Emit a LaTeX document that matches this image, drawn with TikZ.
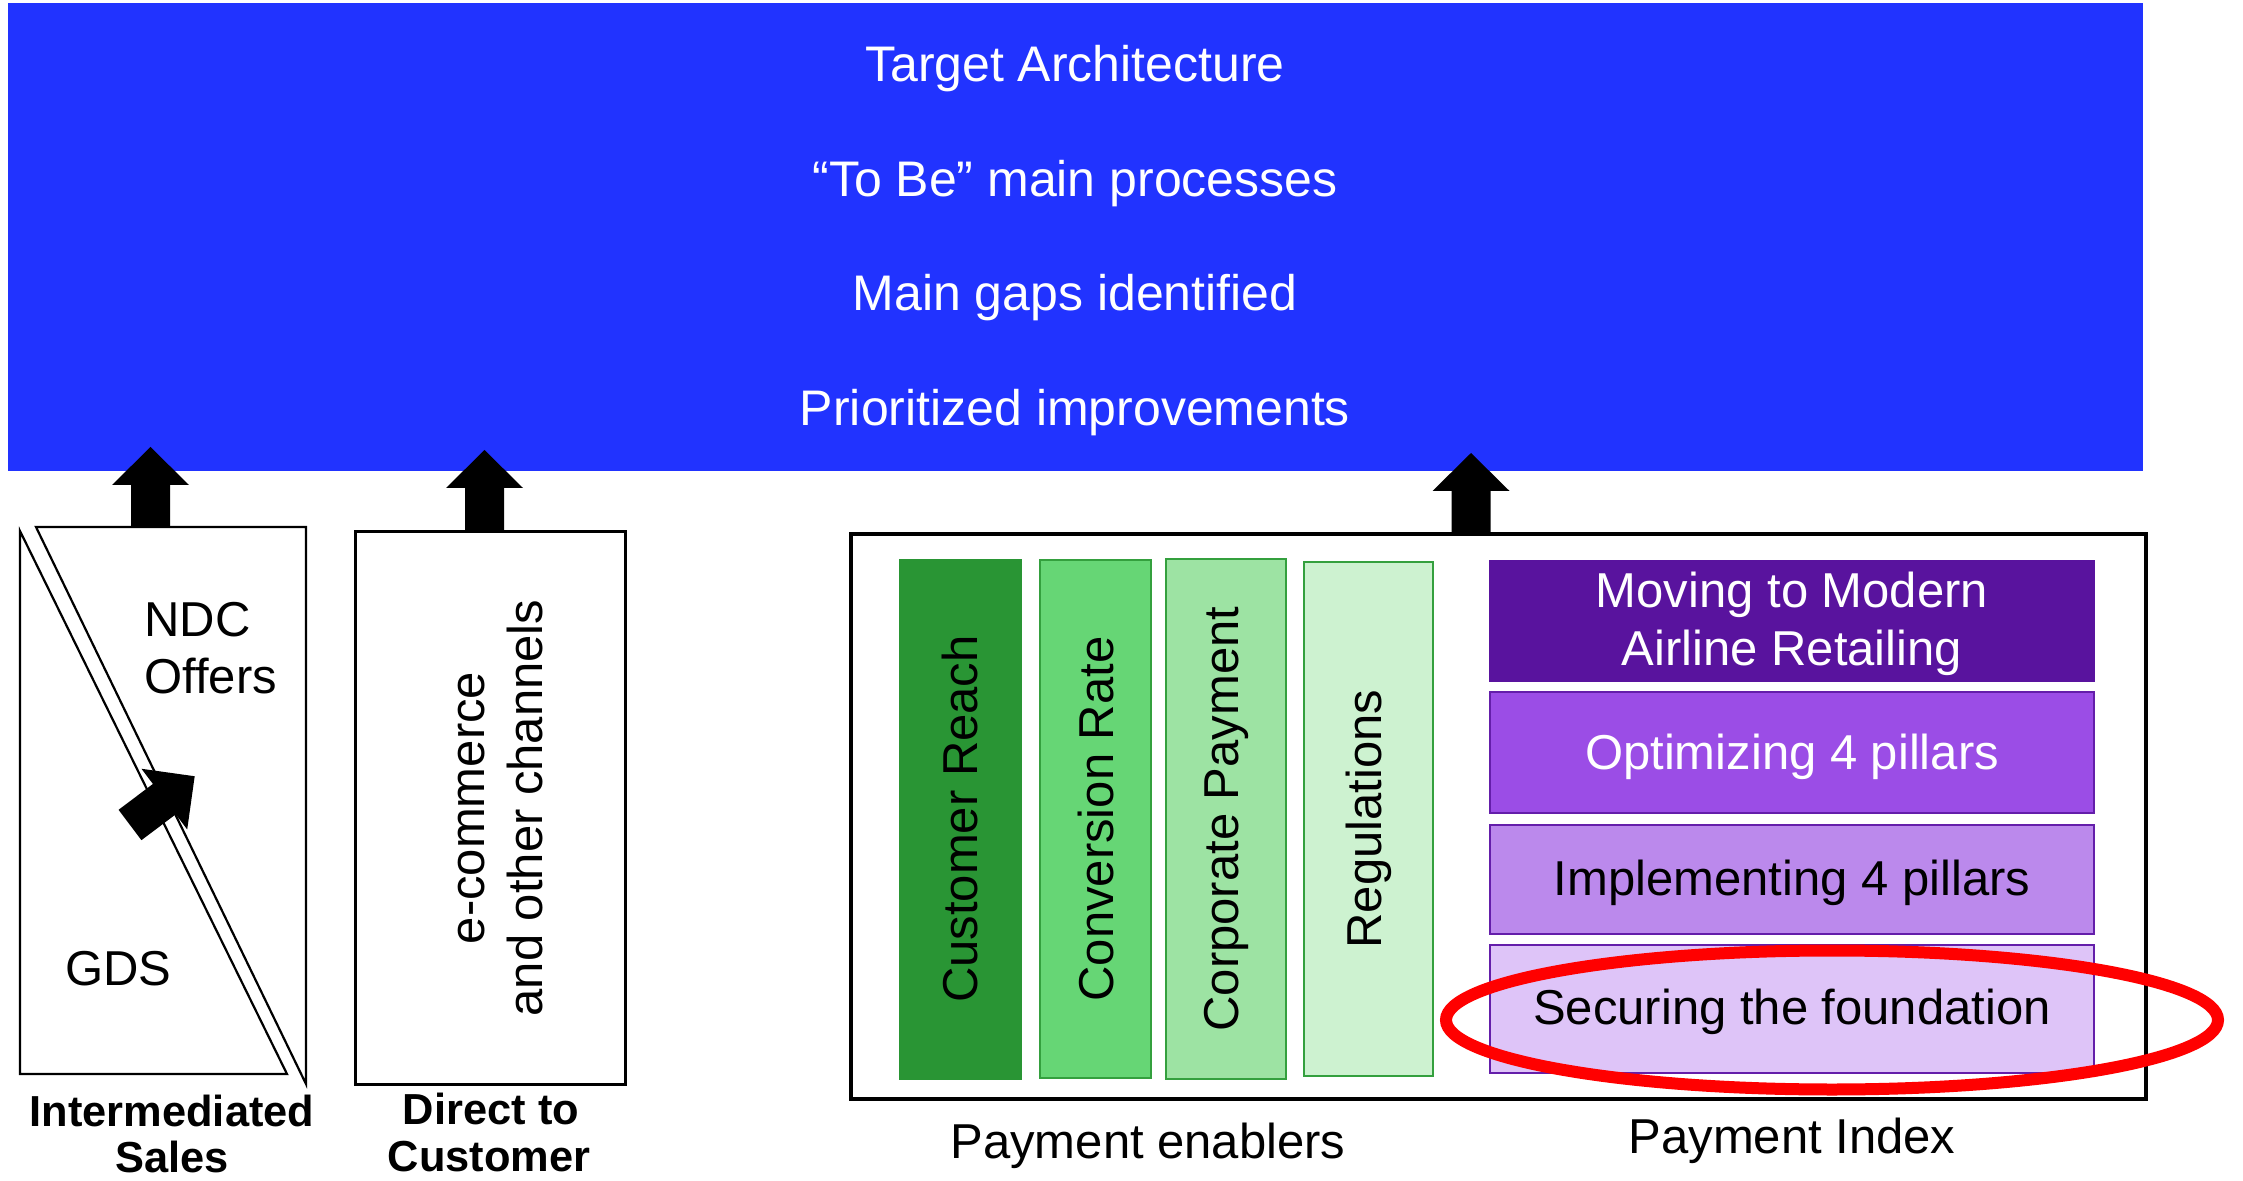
\documentclass[tikz,border=0pt]{standalone}
\usepackage{fontspec}
\setmainfont{Liberation Sans}
\usetikzlibrary{fit}
\definecolor{tblue}{RGB}{33,51,255}
\definecolor{gone}{RGB}{41,149,52}
\definecolor{gtwo}{RGB}{102,214,117}
\definecolor{gthree}{RGB}{157,227,163}
\definecolor{gfour}{RGB}{205,242,208}
\definecolor{gbord}{RGB}{52,160,62}
\definecolor{puone}{RGB}{89,19,158}
\definecolor{putwo}{RGB}{155,77,230}
\definecolor{puthree}{RGB}{187,137,236}
\definecolor{pufour}{RGB}{222,196,248}
\definecolor{pbord}{RGB}{100,30,170}
\definecolor{ringred}{RGB}{255,0,0}
\newcommand\myupblock[4]{%
  \fill[black] (#1-19.5,#2) -- (#1-19.5,#3) -- (#1-38.5,#3) -- (#1,#4) -- (#1+38.5,#3) -- (#1+19.5,#3) -- (#1+19.5,#2) -- cycle;}
\begin{document}
\begin{tikzpicture}[x=0.5pt,y=-0.5pt,
  txt/.style={font=\fontsize{24.5pt}{29pt}\selectfont, inner sep=0pt},
  toptxt/.style={font=\fontsize{25pt}{30pt}\selectfont, inner sep=0pt, text=white, anchor=base},
  lbl/.style={font=\bfseries\fontsize{21.7pt}{25.5pt}\selectfont, inner sep=0pt, anchor=base},
  rect/.style={inner sep=0pt, outer sep=0pt},
  bar/.style={rect, draw=gbord, line width=1pt},
  pbox/.style={rect, draw=pbord, line width=1pt},
]
\useasboundingbox (0,0) rectangle (2243,1181);

% top blue box
\node[rect, fill=tblue, fit={(8,3) (2143,471)}] (target) {};
\node[toptxt] (t1) at (1075,82) {Target Architecture};
\node[toptxt] (t2) at (1075,197) {“To Be” main processes};
\node[toptxt] (t3) at (1075,311) {Main gaps identified};
\node[toptxt] (t4) at (1075,426) {Prioritized improvements};

% intermediated sales
\node[rect, fit={(20,527) (306,1084)}] (inter) {};
\draw[line width=1.1pt] (20,531) -- (20,1074) -- (287,1074) -- cycle;
\draw[line width=1.1pt] (36,527) -- (306,527) -- (306,1084) -- cycle;
\node[txt, anchor=base west] (ndc1) at (144,637) {NDC};
\node[txt, anchor=base west] (ndc2) at (144,693) {Offers};
\node[txt, anchor=base west] (gds) at (65,985) {GDS};
\begin{scope}[shift={(130,825)}, rotate=37]
  \fill[black] (0,-19) -- (43,-19) -- (43,-38) -- (81,0) -- (43,38) -- (43,19) -- (0,19) -- cycle;
\end{scope}

% direct to customer
\node[rect, draw, line width=1.5pt, fit={(355,532) (625,1084)}] (direct) {};
\node[txt, rotate=90, align=center] (ecom) at (501,808) {e-commerce\\and other channels};

% up arrows
\myupblock{150.5}{527}{485}{447}
\myupblock{484.5}{532}{488}{450}
\myupblock{1471}{534}{491}{453}

% payment box
\node[rect, draw, line width=2pt, fit={(851,534) (2146,1099)}] (pay) {};
\node[rect, fill=gone, draw=gone, fit={(899,559) (1021,1079)}] (reach) {};
\node[txt, rotate=90] (reachT) at (reach.center) {Customer Reach};
\node[bar, fill=gtwo, fit={(1040,560) (1151,1078)}] (conv) {};
\node[txt, rotate=90] (convT) at (conv.center) {Conversion Rate};
\node[bar, fill=gthree, fit={(1166,559) (1286,1079)}] (corp) {};
\node[txt, rotate=90] (corpT) at (corp.center) {Corporate Payment};
\node[bar, fill=gfour, fit={(1304,562) (1433,1076)}] (regs) {};
\node[txt, rotate=90] (regsT) at (regs.center) {Regulations};

\node[rect, fill=puone, draw=puone, fit={(1489,560) (2094,681)}] (pone) {};
\node[txt, text=white, anchor=base] (poneA) at (1792,608) {Moving to Modern};
\node[txt, text=white, anchor=base] (poneB) at (1792,665) {Airline Retailing};
\node[pbox, fill=putwo, fit={(1490,692) (2094,813)}] (ptwo) {};
\node[txt, text=white, anchor=base] (ptwoT) at (1792,769) {Optimizing 4 pillars};
\node[pbox, fill=puthree, fit={(1490,825) (2094,934)}] (pthree) {};
\node[txt, anchor=base] (pthreeT) at (1792,895) {Implementing 4 pillars};
\node[pbox, fill=pufour, fit={(1490,945) (2094,1073)}] (pfour) {};
\node[txt, anchor=base] (pfourT) at (1792,1024) {Securing the foundation};

\draw[ringred, line width=6pt] (1832,1020) ellipse [x radius=193pt, y radius=34.75pt];

% bottom labels
\node[lbl] (is1) at (172,1126) {Intermediated};
\node[lbl] (is2) at (172,1172) {Sales};
\node[lbl] (dc1) at (491,1124) {Direct to};
\node[lbl] (dc2) at (489,1171) {Customer};
\node[txt, anchor=base] (pe) at (1148,1158) {Payment enablers};
\node[txt, anchor=base] (pi) at (1792,1153) {Payment Index};
\end{tikzpicture}
\end{document}
